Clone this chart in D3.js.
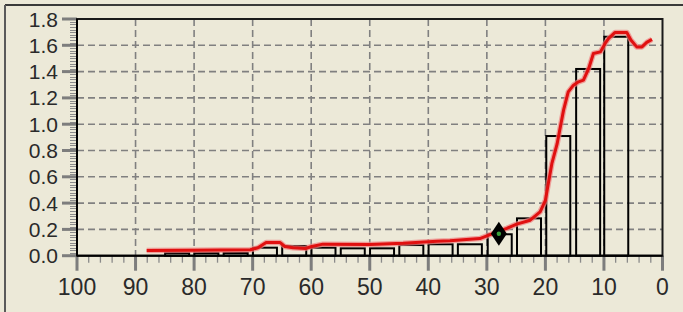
<!DOCTYPE html>
<html>
<head>
<meta charset="utf-8">
<script src="https://cdn.jsdelivr.net/npm/d3@7"></script>
<style>
  html, body { margin: 0; padding: 0; background: #ECE9D8; }
  svg { display: block; }
  text { font-family: "Liberation Sans", Arial, sans-serif; fill: #2a2a2a; }
</style>
</head>
<body>
<svg id="chart" width="683" height="312"></svg>
<script>
// ---- data ----
const binCenters = [82.9, 77.9, 72.9, 67.9, 62.9, 57.9, 52.9, 47.9, 42.9, 37.9, 32.9, 27.8, 22.8, 17.8, 12.7, 7.9];
const binValues  = [0.02, 0.02, 0.02, 0.061, 0.074, 0.061, 0.056, 0.056, 0.081, 0.087, 0.087, 0.163, 0.284, 0.91, 1.42, 1.665];
const binWidth = 4.1;

const lineX = [88.1, 80.0, 70.4, 69.1, 67.7, 65.3, 64.5, 63.1, 61.0, 59.9, 58.0, 50.0, 44.3, 38.5, 36.3, 31.2, 28.9, 26.6, 24.9, 22.6, 20.9, 20.0, 19.5, 18.9, 18.0, 16.9, 16.1, 15.2, 14.35, 13.5, 12.6, 11.8, 10.6, 9.8, 9.2, 8.1, 6.1, 5.4, 4.4, 3.5, 2.7, 1.8];
const lineY = [0.040, 0.042, 0.045, 0.060, 0.100, 0.100, 0.070, 0.060, 0.055, 0.070, 0.088, 0.085, 0.094, 0.110, 0.114, 0.130, 0.170, 0.208, 0.240, 0.270, 0.334, 0.420, 0.550, 0.700, 0.850, 1.107, 1.246, 1.297, 1.322, 1.335, 1.424, 1.538, 1.550, 1.614, 1.652, 1.698, 1.698, 1.640, 1.588, 1.588, 1.622, 1.645];

const markerX = [27.95];
const markerY = [0.167];

const xTicks = [100, 90, 80, 70, 60, 50, 40, 30, 20, 10, 0];
const xTickLabels = ["100", "90", "80", "70", "60", "50", "40", "30", "20", "10", "0"];
const yTicks = [0, 0.2, 0.4, 0.6, 0.8, 1.0, 1.2, 1.4, 1.6, 1.8];
const yTickLabels = ["0.0", "0.2", "0.4", "0.6", "0.8", "1.0", "1.2", "1.4", "1.6", "1.8"];

// ---- layout ----
const svg = d3.select("#chart");
const W = 683, H = 312;
const L = 77, R = 662.5, T = 19, B = 255.7;

const x = d3.scaleLinear().domain([100, 0]).range([L, R]);
const y = d3.scaleLinear().domain([0, 1.8]).range([B, T]);

svg.append("rect").attr("width", W).attr("height", H).attr("fill", "#ECE9D8");
// outer sunken frame
svg.append("line").attr("x1", 5).attr("x2", W).attr("y1", 5).attr("y2", 5).attr("stroke", "#3a3a3a").attr("stroke-width", 2);
svg.append("line").attr("x1", 5).attr("x2", 5).attr("y1", 5).attr("y2", H).attr("stroke", "#5a5a5a").attr("stroke-width", 2);

// grid
const grid = svg.append("g").attr("stroke", "#808080").attr("stroke-width", 1.6).attr("stroke-dasharray", "7,4");
grid.selectAll("line.gy").data(yTicks.filter(d => d > 0 && d < 1.8)).join("line")
  .attr("x1", L).attr("x2", R).attr("y1", d => y(d)).attr("y2", d => y(d));
grid.selectAll("line.gx").data(xTicks.filter(d => d > 0 && d < 100)).join("line")
  .attr("x1", d => x(d)).attr("x2", d => x(d)).attr("y1", T).attr("y2", B);

// minor ticks
const yMinor = d3.range(0, 1.8001, 0.02);
svg.append("g").selectAll("line").data(yMinor).join("line")
  .attr("x1", L - 7).attr("x2", L).attr("y1", d => Math.round(y(d)) + 0.5).attr("y2", d => Math.round(y(d)) + 0.5)
  .attr("stroke", "#8a8a8a").attr("stroke-width", 1);
const xMinor = d3.range(0, 100.001, 2);
svg.append("g").selectAll("line").data(xMinor).join("line")
  .attr("x1", d => x(d)).attr("x2", d => x(d)).attr("y1", B).attr("y2", B + 7)
  .attr("stroke", "#8a8a8a").attr("stroke-width", 1.3);

// major ticks
svg.append("g").selectAll("line").data(yTicks).join("line")
  .attr("x1", L - 15).attr("x2", L).attr("y1", d => y(d)).attr("y2", d => y(d))
  .attr("stroke", "#7d7d7d").attr("stroke-width", 3);
svg.append("g").selectAll("line").data(xTicks).join("line")
  .attr("x1", d => x(d)).attr("x2", d => x(d)).attr("y1", B).attr("y2", B + 15)
  .attr("stroke", "#7d7d7d").attr("stroke-width", 3);

// plot frame
svg.append("rect").attr("x", L).attr("y", T).attr("width", R - L).attr("height", B - T)
  .attr("fill", "none").attr("stroke", "#1a1a1a").attr("stroke-width", 2);

// bars
svg.append("g").selectAll("rect").data(binCenters).join("rect")
  .attr("x", d => x(d + binWidth / 2))
  .attr("width", d => x(d - binWidth / 2) - x(d + binWidth / 2))
  .attr("y", (d, i) => y(binValues[i]))
  .attr("height", (d, i) => B - y(binValues[i]))
  .attr("fill", "none").attr("stroke", "#000").attr("stroke-width", 2);

// red line
const pts = lineX.map((d, i) => [d, lineY[i]]);
const lineGen = d3.line().x(d => x(d[0])).y(d => y(d[1]));
svg.append("path").attr("d", lineGen(pts)).attr("fill", "none")
  .attr("stroke", "#f08080").attr("stroke-width", 5.5).attr("stroke-linejoin", "round").attr("opacity", 0.7);
svg.append("path").attr("d", lineGen(pts)).attr("fill", "none")
  .attr("stroke", "#e01010").attr("stroke-width", 3).attr("stroke-linejoin", "round");

// axes lines
svg.append("line").attr("x1", L).attr("x2", L).attr("y1", T).attr("y2", B).attr("stroke", "#000").attr("stroke-width", 2);
svg.append("line").attr("x1", L).attr("x2", R).attr("y1", B).attr("y2", B).attr("stroke", "#000").attr("stroke-width", 2);

// marker
const mk = svg.append("g");
markerX.forEach((mx, i) => {
  const cx = x(mx), cy = y(markerY[i]);
  mk.append("path").attr("d", d3.line()([[cx, cy - 12], [cx + 8, cy], [cx, cy + 12], [cx - 8, cy]]) + "Z")
    .attr("fill", "#000");
  mk.append("circle").attr("cx", cx).attr("cy", cy).attr("r", 2.2).attr("fill", "#3aa03a");
});

// labels
svg.append("g").selectAll("text").data(yTicks).join("text")
  .attr("x", 58).attr("y", d => y(d)).attr("dy", "0.36em")
  .attr("text-anchor", "end").attr("font-size", 21)
  .text((d, i) => yTickLabels[i]);
svg.append("g").selectAll("text").data(xTicks).join("text")
  .attr("x", d => x(d)).attr("y", 295)
  .attr("text-anchor", "middle").attr("font-size", 23)
  .text((d, i) => xTickLabels[i]);
</script>
</body>
</html>
